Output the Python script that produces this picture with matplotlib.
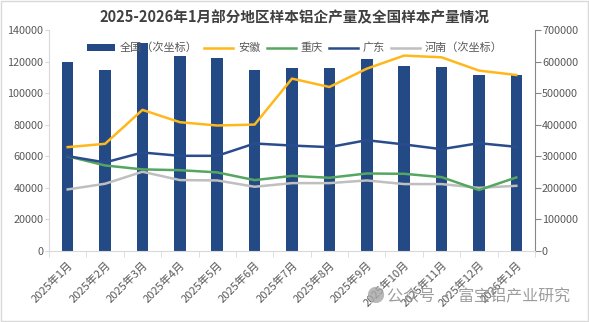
import matplotlib
matplotlib.use("Agg")
import matplotlib.pyplot as plt
import numpy as np

plt.rcParams['font.family'] = ['Noto Sans CJK SC', 'DejaVu Sans']

# data (tons)
months = ["2025年1月", "2025年2月", "2025年3月", "2025年4月", "2025年5月", "2025年6月",
          "2025年7月", "2025年8月", "2025年9月", "2025年10月", "2025年11月", "2025年12月",
          "2026年1月"]
national = [598000, 572500, 658000, 617000, 610000, 572500, 579000, 579000, 607000,
            585000, 582000, 557500, 557500]
anhui = [65800, 67900, 89400, 81600, 79500, 80100, 109200, 103900, 115500, 123800,
         122700, 114300, 111500]
chongqing = [60000, 54200, 51700, 51200, 49800, 44900, 47600, 46400, 49100, 48900,
             46800, 38600, 46600]
guangdong = [60100, 56100, 62400, 60300, 60300, 68100, 66800, 65800, 70200, 67500,
             64500, 68300, 66000]
henan = [195000, 213000, 251000, 224600, 223500, 203500, 215000, 215000, 223500,
         212000, 212000, 200000, 206500]

tick_color = "#595959"

fig = plt.figure(figsize=(5.89, 3.22), dpi=100)
ax = fig.add_axes([49/589, 1-251/322, (535-49)/589, (251-30)/322])
ax2 = ax.twinx()
ax.set_zorder(ax2.get_zorder() + 1)
ax.patch.set_visible(False)

x = np.arange(len(months))

# secondary axis: bars + Henan
bars = ax2.bar(x, national, width=0.31, color="#244A85", zorder=2, label="全国（次坐标）")
l_hn, = ax2.plot(x, henan, color="#BFBFBF", lw=1.8, zorder=3, label="河南（次坐标）")

# primary axis lines
l_ah, = ax.plot(x, anhui, color="#FFB81C", lw=1.8, label="安徽")
l_cq, = ax.plot(x, chongqing, color="#55A660", lw=1.8, label="重庆")
l_gd, = ax.plot(x, guangdong, color="#2B4C8C", lw=1.8, label="广东")

ax.set_xlim(-0.5, len(months) - 0.5)
ax.set_ylim(0, 140000)
ax.set_yticks(np.arange(0, 140001, 20000))
ax2.set_ylim(0, 700000)
ax2.set_yticks(np.arange(0, 700001, 100000))

ax.set_xticks(x)
ax.set_xticklabels(months, rotation=45, ha="right", va="top", rotation_mode="anchor",
                   fontsize=8, color=tick_color)
ax.set_xticks(np.arange(-0.5, len(months)), minor=True)
ax.tick_params(axis="x", which="major", length=0, pad=6)
ax.tick_params(axis="x", which="minor", length=4, color="#D9D9D9")
ax.tick_params(axis="y", labelsize=7.8, labelcolor=tick_color, length=3, color="#D9D9D9", pad=1)
ax2.tick_params(axis="y", labelsize=7.8, labelcolor=tick_color, length=4, color="#868686", pad=1)

for a in (ax, ax2):
    a.spines["top"].set_visible(False)
ax.spines["right"].set_visible(False)
ax.spines["left"].set_color("#D9D9D9")
ax.spines["bottom"].set_color("#D9D9D9")
ax2.spines["left"].set_visible(False)
ax2.spines["bottom"].set_visible(False)
ax2.spines["right"].set_color("#868686")

fig.text(0.5, 1-17/322, "2025-2026年1月部分地区样本铝企产量及全国样本产量情况",
         ha="center", va="center", fontsize=10.5, fontweight="bold", color="#404040")

ax.legend(handles=[bars, l_ah, l_cq, l_gd, l_hn], loc="center",
          bbox_to_anchor=(0.5, 1-48/322), bbox_transform=fig.transFigure,
          ncol=5, frameon=False, fontsize=8, handlelength=2.6, handletextpad=0.4,
          columnspacing=0.6, labelcolor=tick_color)

# watermark
fig.text(0.968, 1-297/322, "公众号 · 富宝铝产业研究", ha="right", va="center",
         fontsize=11.5, color="#8C8C8C", alpha=0.85)
fig.text(375/589, 1-297/322, "●", ha="center", va="center",
         fontsize=13, color="#A6A6A6", alpha=0.8)

# outer border
fig.patches.append(plt.Rectangle((0.002, 0.003), 0.996, 0.994, transform=fig.transFigure,
                                 fill=False, edgecolor="#D9D9D9", lw=1))

fig.savefig("out.png", dpi=100)
